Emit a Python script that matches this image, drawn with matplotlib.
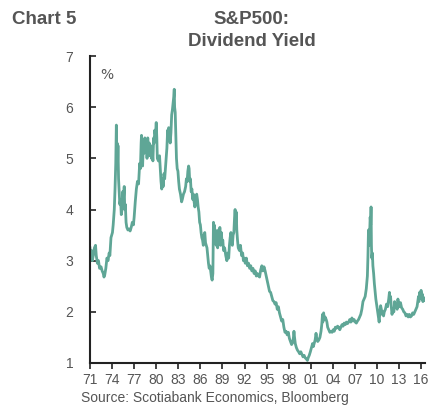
import matplotlib
matplotlib.use('Agg')
import matplotlib.pyplot as plt

# S&P500 dividend yield, % (decimal years)
years = [1971.0, 1971.1, 1971.2, 1971.3, 1971.45, 1971.6, 1971.75, 1971.85, 1972.0, 1972.15,
         1972.3, 1972.5, 1972.65, 1972.8, 1972.9, 1973.0, 1973.15, 1973.3, 1973.45, 1973.6,
         1973.7, 1973.85, 1973.95, 1974.05, 1974.15, 1974.3, 1974.4, 1974.5, 1974.58, 1974.62,
         1974.68, 1974.73, 1974.8, 1974.88, 1974.95, 1975.05, 1975.15, 1975.25, 1975.35, 1975.45,
         1975.55, 1975.65, 1975.72, 1975.8, 1975.9, 1976.0, 1976.15, 1976.3, 1976.45, 1976.6,
         1976.75, 1976.9, 1977.0, 1977.15, 1977.3, 1977.45, 1977.6, 1977.75, 1977.85, 1977.95,
         1978.0, 1978.08, 1978.15, 1978.25, 1978.35, 1978.45, 1978.55, 1978.65, 1978.75, 1978.85,
         1978.95, 1979.05, 1979.15, 1979.25, 1979.35, 1979.45, 1979.55, 1979.65, 1979.72, 1979.8,
         1979.9, 1980.0, 1980.08, 1980.15, 1980.3, 1980.45, 1980.55, 1980.65, 1980.75, 1980.85,
         1980.95, 1981.05, 1981.15, 1981.3, 1981.45, 1981.55, 1981.6, 1981.7, 1981.8, 1981.9,
         1982.0, 1982.1, 1982.2, 1982.3, 1982.38, 1982.45, 1982.5, 1982.58, 1982.65, 1982.75,
         1982.85, 1982.95, 1983.05, 1983.15, 1983.3, 1983.45, 1983.55, 1983.7, 1983.85, 1984.0,
         1984.1, 1984.2, 1984.3, 1984.4, 1984.47, 1984.55, 1984.65, 1984.75, 1984.85, 1984.95,
         1985.05, 1985.15, 1985.25, 1985.4, 1985.5, 1985.6, 1985.7, 1985.8, 1985.9, 1986.0,
         1986.1, 1986.2, 1986.3, 1986.4, 1986.5, 1986.6, 1986.7, 1986.8, 1986.9, 1987.0,
         1987.1, 1987.2, 1987.3, 1987.4, 1987.5, 1987.6, 1987.7, 1987.78, 1987.82, 1987.88,
         1987.95, 1988.05, 1988.15, 1988.25, 1988.35, 1988.45, 1988.55, 1988.65, 1988.75, 1988.85,
         1988.95, 1989.05, 1989.15, 1989.3, 1989.45, 1989.6, 1989.75, 1989.85, 1989.95, 1990.05,
         1990.15, 1990.25, 1990.35, 1990.45, 1990.55, 1990.65, 1990.72, 1990.8, 1990.88, 1990.95,
         1991.05, 1991.15, 1991.3, 1991.45, 1991.6, 1991.75, 1991.85, 1991.95, 1992.1, 1992.25,
         1992.4, 1992.55, 1992.7, 1992.85, 1993.0, 1993.15, 1993.3, 1993.45, 1993.6, 1993.75,
         1993.9, 1994.05, 1994.2, 1994.35, 1994.5, 1994.65, 1994.8, 1994.95, 1995.1, 1995.25,
         1995.4, 1995.55, 1995.7, 1995.85, 1996.0, 1996.15, 1996.3, 1996.45, 1996.6, 1996.75,
         1996.9, 1997.05, 1997.2, 1997.35, 1997.5, 1997.65, 1997.8, 1997.95, 1998.1, 1998.25,
         1998.4, 1998.55, 1998.65, 1998.72, 1998.8, 1998.9, 1999.05, 1999.2, 1999.35, 1999.5,
         1999.65, 1999.8, 1999.95, 2000.1, 2000.25, 2000.4, 2000.55, 2000.65, 2000.8, 2000.95,
         2001.1, 2001.25, 2001.35, 2001.5, 2001.6, 2001.72, 2001.8, 2001.95, 2002.1, 2002.25,
         2002.4, 2002.5, 2002.6, 2002.65, 2002.75, 2002.85, 2002.95, 2003.1, 2003.2, 2003.3,
         2003.45, 2003.6, 2003.75, 2003.9, 2004.05, 2004.2, 2004.35, 2004.5, 2004.65, 2004.8,
         2004.95, 2005.1, 2005.25, 2005.4, 2005.55, 2005.7, 2005.85, 2006.0, 2006.15, 2006.3,
         2006.45, 2006.6, 2006.75, 2006.9, 2007.05, 2007.2, 2007.35, 2007.5, 2007.65, 2007.8,
         2007.95, 2008.1, 2008.25, 2008.4, 2008.55, 2008.7, 2008.78, 2008.85, 2008.92, 2009.0,
         2009.08, 2009.15, 2009.2, 2009.25, 2009.3, 2009.38, 2009.45, 2009.55, 2009.65, 2009.75,
         2009.85, 2009.95, 2010.05, 2010.15, 2010.25, 2010.3, 2010.4, 2010.5, 2010.6, 2010.7,
         2010.8, 2010.9, 2011.0, 2011.15, 2011.3, 2011.45, 2011.6, 2011.7, 2011.78, 2011.85,
         2011.95, 2012.05, 2012.15, 2012.3, 2012.4, 2012.5, 2012.6, 2012.75, 2012.85, 2012.95,
         2013.05, 2013.2, 2013.35, 2013.5, 2013.65, 2013.8, 2013.95, 2014.1, 2014.25, 2014.4,
         2014.55, 2014.7, 2014.85, 2015.0, 2015.15, 2015.3, 2015.45, 2015.55, 2015.65, 2015.7,
         2015.8, 2015.9, 2016.0, 2016.08, 2016.15, 2016.25, 2016.35, 2016.45, 2016.55]
yield_pct = [3.25, 3.05, 3.2, 3.0, 3.1, 3.25, 3.3, 3.1, 2.95, 3.0,
             2.85, 2.88, 2.8, 2.75, 2.68, 2.72, 2.85, 3.05, 3.0, 3.15,
             3.1, 3.45, 3.5, 3.55, 3.7, 4.0, 4.4, 4.9, 5.65, 5.1,
             5.3, 4.8, 5.25, 4.6, 4.4, 4.1, 4.2, 3.9, 4.0, 4.35,
             4.2, 4.45, 4.0, 4.1, 3.75, 3.65, 3.6, 3.62, 3.58, 3.65,
             3.75, 3.7, 3.85, 4.15, 4.4, 4.55, 4.5, 4.9, 4.8, 5.3,
             5.45, 4.95, 4.85, 5.3, 5.1, 5.4, 5.2, 5.35, 5.0, 5.4,
             5.1, 5.3, 5.05, 5.25, 5.0, 5.15, 4.95, 5.4, 5.3, 5.55,
             5.45, 5.7, 5.4, 5.0, 4.95, 5.05, 4.8, 4.55, 4.4, 4.6,
             4.45, 4.7, 4.6, 4.9, 5.2, 5.55, 5.35, 5.6, 5.5, 5.3,
             5.5, 5.85, 5.95, 6.1, 6.2, 6.35, 6.0, 5.9, 5.5, 5.0,
             4.8, 4.75, 4.55, 4.4, 4.3, 4.15, 4.2, 4.3, 4.35, 4.45,
             4.6, 4.55, 4.75, 4.85, 4.8, 4.55, 4.6, 4.35, 4.4, 4.2,
             4.3, 4.15, 4.05, 4.15, 4.3, 4.2, 4.05, 3.95, 3.75, 3.7,
             3.55, 3.45, 3.4, 3.3, 3.5, 3.55, 3.35, 3.3, 3.25, 3.1,
             2.95, 2.85, 2.9, 2.8, 2.68, 2.62, 2.75, 3.75, 3.5, 3.7,
             3.4, 3.6, 3.3, 3.55, 3.25, 3.6, 3.35, 3.65, 3.3, 3.55,
             3.35, 3.4, 3.2, 3.25, 3.1, 3.0, 3.15, 3.05, 3.3, 3.45,
             3.55, 3.35, 3.3, 3.5, 3.55, 3.85, 4.0, 3.75, 3.95, 3.6,
             3.4, 3.25, 3.2, 3.3, 3.1, 3.15, 3.0, 3.05, 2.95, 3.05,
             2.9, 2.95, 2.85, 2.9, 2.8, 2.85, 2.75, 2.8, 2.7, 2.75,
             2.7, 2.68, 2.82, 2.9, 2.8, 2.88, 2.8, 2.7, 2.6, 2.5,
             2.4, 2.38, 2.3, 2.22, 2.2, 2.15, 2.18, 2.05, 2.1, 1.98,
             1.9, 1.82, 1.85, 1.7, 1.6, 1.62, 1.55, 1.6, 1.48, 1.42,
             1.36, 1.4, 1.5, 1.62, 1.5, 1.38, 1.3, 1.25, 1.22, 1.18,
             1.22, 1.17, 1.12, 1.15, 1.1, 1.08, 1.05, 1.1, 1.15, 1.22,
             1.3, 1.38, 1.32, 1.4, 1.45, 1.58, 1.5, 1.42, 1.45, 1.5,
             1.62, 1.75, 1.95, 1.8, 1.98, 1.85, 1.9, 1.85, 1.8, 1.7,
             1.65, 1.6, 1.62, 1.6, 1.65, 1.62, 1.7, 1.68, 1.72, 1.7,
             1.65, 1.7, 1.75, 1.72, 1.78, 1.75, 1.8, 1.77, 1.8, 1.85,
             1.8, 1.88, 1.82, 1.85, 1.8, 1.78, 1.82, 1.85, 1.9, 1.95,
             2.05, 2.2, 2.25, 2.3, 2.45, 2.7, 3.1, 3.6, 3.3, 3.5,
             3.85, 3.7, 4.05, 3.3, 3.05, 3.15, 2.9, 2.75, 2.55, 2.4,
             2.25, 2.15, 2.05, 1.95, 1.85, 1.8, 2.0, 2.12, 2.05, 1.95,
             2.0, 1.92, 2.0, 2.05, 2.15, 2.1, 2.25, 2.38, 2.2, 2.3,
             2.1, 1.95, 2.05, 2.0, 2.2, 2.1, 2.15, 2.05, 2.25, 2.15,
             2.1, 2.18, 2.08, 2.05, 2.0, 1.98, 1.92, 1.95, 1.9, 1.95,
             1.9, 1.92, 1.98, 1.95, 2.0, 2.05, 2.1, 2.2, 2.3, 2.2,
             2.38, 2.3, 2.42, 2.25, 2.35, 2.2, 2.28, 2.22, 2.25]
tick_years = list(range(1971, 2017, 3))
tick_labels = ['71', '74', '77', '80', '83', '86', '89', '92', '95', '98',
               '01', '04', '07', '10', '13', '16']

grey = '#555555'
fig = plt.figure(figsize=(4.28, 4.08), dpi=100)
ax = fig.add_axes([0.2103, 0.1103, 0.783, 0.7524])
ax.plot(years, yield_pct, color='#5fa696', linewidth=2.0)

ax.set_xlim(1971, 2016.55)
ax.set_ylim(1, 7)
ax.set_xticks(tick_years)
ax.set_xticklabels(tick_labels)
ax.set_yticks(range(1, 8))
ax.tick_params(axis='x', direction='out', length=4, width=1.2, colors='#222222',
               labelcolor=grey, labelsize=10, pad=3)
ax.tick_params(axis='y', direction='in', length=4, width=1.2, colors='#222222',
               labelcolor=grey, labelsize=10, pad=12)
for side in ['top', 'right']:
    ax.spines[side].set_visible(False)
for side in ['left', 'bottom']:
    ax.spines[side].set_linewidth(1.5)
    ax.spines[side].set_color('#222222')

ax.text(0.03, 0.96, '%', transform=ax.transAxes, color=grey, fontsize=10, va='top')
fig.text(0.028, 0.952, 'Chart 5', color=grey, fontsize=13.5, fontweight='bold',
         family='Liberation Sans', va='center')
fig.text(0.588, 0.951, 'S&P500:', color=grey, fontsize=13.5, fontweight='bold',
         family='Liberation Sans', ha='center', va='center')
fig.text(0.588, 0.898, 'Dividend Yield', color=grey, fontsize=13.5, fontweight='bold',
         family='Liberation Sans', ha='center', va='center')
fig.text(0.19, 0.024, 'Source: Scotiabank Economics, Bloomberg', color=grey, fontsize=10,
         family='Liberation Sans', va='center')
for lbl in ax.get_xticklabels() + ax.get_yticklabels():
    lbl.set_family('Liberation Sans')

fig.savefig('out.png', dpi=100)
